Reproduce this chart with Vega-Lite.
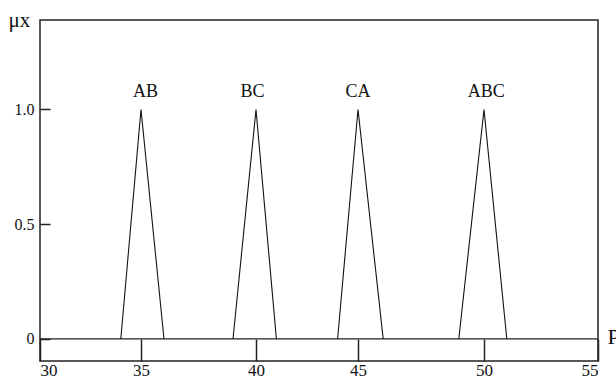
{
  "$schema": "https://vega.github.io/schema/vega-lite/v6.json",
  "width": 558,
  "height": 341,
  "autosize": "none",
  "padding": {"left": 40, "top": 20, "right": 18, "bottom": 22},
  "background": "white",
  "config": {
    "view": {"stroke": "#222", "strokeWidth": 1.5},
    "font": "Liberation Serif"
  },
  "datasets": {
    "tri": [
      {"s": "AB", "x": 34, "y": 0}, {"s": "AB", "x": 35, "y": 1}, {"s": "AB", "x": 36, "y": 0},
      {"s": "BC", "x": 39, "y": 0}, {"s": "BC", "x": 40, "y": 1}, {"s": "BC", "x": 41, "y": 0},
      {"s": "CA", "x": 44, "y": 0}, {"s": "CA", "x": 45, "y": 1}, {"s": "CA", "x": 46, "y": 0},
      {"s": "ABC", "x": 49, "y": 0}, {"s": "ABC", "x": 50, "y": 1}, {"s": "ABC", "x": 51, "y": 0}
    ],
    "labels": [
      {"s": "AB", "x": 35.2, "y": 1.075},
      {"s": "BC", "x": 39.85, "y": 1.075},
      {"s": "CA", "x": 45, "y": 1.075},
      {"s": "ABC", "x": 50.1, "y": 1.075}
    ]
  },
  "layer": [
    {
      "data": {"values": [{"y": 0}]},
      "mark": {"type": "rule", "color": "#222", "strokeWidth": 1.2},
      "encoding": {
        "y": {
          "field": "y", "type": "quantitative",
          "scale": {"domain": [-0.096, 1.39], "nice": false, "zero": false},
          "axis": {
            "values": [0, 0.5, 1],
            "labelExpr": "datum.value == 0 ? '0' : format(datum.value, '.1f')",
            "tickSize": -10, "tickColor": "#222", "tickWidth": 1.5,
            "labelPadding": 16, "labelFontSize": 16, "labelColor": "#111",
            "labelFont": "Liberation Serif",
            "domain": false, "grid": false,
            "title": "μx", "titleAngle": 0, "titleAlign": "left", "titleBaseline": "alphabetic",
            "titleX": -32, "titleY": 6, "titleFontSize": 21, "titleFontWeight": "normal",
            "titleFont": "Liberation Serif", "titleColor": "#111"
          }
        }
      }
    },
    {
      "data": {"name": "tri"},
      "mark": {"type": "line", "color": "#111", "strokeWidth": 1.1},
      "encoding": {
        "x": {
          "field": "x", "type": "quantitative",
          "scale": {"domain": [30, 35, 40, 45, 50, 55], "range": [0, 101, 216, 318, 444, 558], "nice": false, "zero": false},
          "axis": {
            "values": [30, 35, 40, 45, 50, 55],
            "tickSize": -22, "tickColor": "#222", "tickWidth": 1.5,
            "labelPadding": 23, "labelFontSize": 17, "labelColor": "#111",
            "labelFont": "Liberation Serif",
            "domain": false, "grid": false,
            "title": "P", "titleAlign": "left", "titleBaseline": "alphabetic",
            "titleX": 567, "titleY": -18, "titleFontSize": 22, "titleFontWeight": "normal",
            "titleFont": "Liberation Serif", "titleColor": "#111"
          }
        },
        "y": {"field": "y", "type": "quantitative"},
        "detail": {"field": "s"}
      }
    },
    {
      "data": {"name": "labels"},
      "mark": {"type": "text", "font": "Liberation Serif", "fontSize": 18, "color": "#111", "baseline": "middle"},
      "encoding": {
        "x": {"field": "x", "type": "quantitative"},
        "y": {"field": "y", "type": "quantitative"},
        "text": {"field": "s"}
      }
    }
  ]
}
